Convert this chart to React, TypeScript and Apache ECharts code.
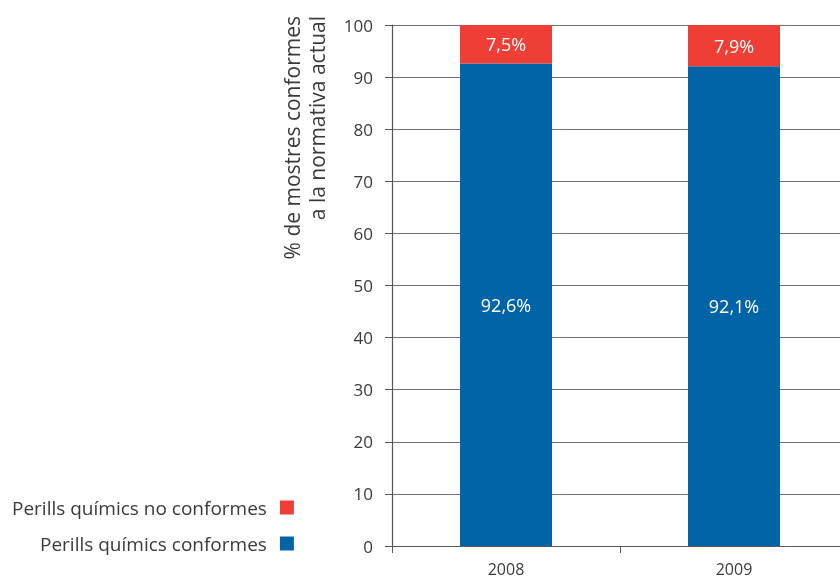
import React, { useEffect, useRef } from "react";
import * as echarts from "echarts";

const years = ["2008", "2009"];
const conformes = [92.6, 92.1];
const noConformes = [7.5, 7.9];
const seriesNames = ["Perills químics no conformes", "Perills químics conformes"];
const yTitle = "% de mostres conformes\na la normativa actual";

const RED = "#ee3e36";
const BLUE = "#0064a6";
const FONT = "'Open Sans', 'Noto Sans', sans-serif";

const fmt = (v: number) => v.toFixed(1).replace(".", ",") + "%";

export default function App() {
  const ref = useRef<HTMLDivElement>(null);

  useEffect(() => {
    if (!ref.current) return;
    const chart = echarts.init(ref.current, null, { renderer: "svg" });
    chart.setOption({
      animation: false,
      textStyle: { fontFamily: FONT },
      // the plot runs on past the right edge of the visible area
      grid: { left: 392, top: 25, width: 456, height: 521, containLabel: false },
      legend: {
        orient: "vertical",
        left: 7,
        top: 493,
        align: "right",
        icon: "rect",
        itemWidth: 14,
        itemHeight: 14,
        itemGap: 17,
        data: seriesNames,
        selectedMode: false,
        textStyle: { fontSize: 19, color: "#3a3a3a", fontFamily: FONT, padding: [0, 8, 0, 0] },
      },
      xAxis: {
        type: "category",
        data: years,
        axisLine: { lineStyle: { color: "#555", width: 1.2 } },
        axisTick: { show: true, length: 7, lineStyle: { color: "#555" } },
        axisLabel: { fontSize: 16, color: "#3a3a3a", margin: 15, fontFamily: FONT },
      },
      yAxis: {
        type: "value",
        min: 0,
        max: 100,
        interval: 10,
        axisLine: { show: true, lineStyle: { color: "#555", width: 1.2 } },
        axisTick: { show: true, length: 7, lineStyle: { color: "#555" } },
        axisLabel: { fontSize: 17, color: "#3a3a3a", margin: 19, fontFamily: FONT },
        splitLine: { show: true, lineStyle: { color: "#707070", width: 1 } },
      },
      graphic: [
        {
          type: "text",
          x: 304,
          y: 16,
          rotation: Math.PI / 2,
          style: {
            text: yTitle,
            fontSize: 21,
            fontFamily: FONT,
            fill: "#3a3a3a",
            align: "right",
            verticalAlign: "middle",
            lineHeight: 25,
          },
        },
      ],
      series: [
        {
          name: seriesNames[1],
          type: "bar",
          stack: "total",
          barWidth: 92,
          data: conformes,
          itemStyle: { color: BLUE },
          label: {
            show: true,
            position: "inside",
            color: "#fff",
            fontSize: 18,
            fontFamily: FONT,
            formatter: (p: any) => fmt(p.value),
          },
        },
        {
          name: seriesNames[0],
          type: "bar",
          stack: "total",
          barWidth: 92,
          data: noConformes,
          itemStyle: { color: RED },
          label: {
            show: true,
            position: "inside",
            color: "#fff",
            fontSize: 18,
            fontFamily: FONT,
            formatter: (p: any) => fmt(p.value),
          },
        },
      ],
    });
    return () => chart.dispose();
  }, []);

  return (
    <div
      style={{
        position: "fixed",
        left: 0,
        top: 0,
        width: 840,
        height: 579,
        overflow: "hidden",
      }}
    >
      <div ref={ref} style={{ width: 880, height: 579 }} />
    </div>
  );
}
